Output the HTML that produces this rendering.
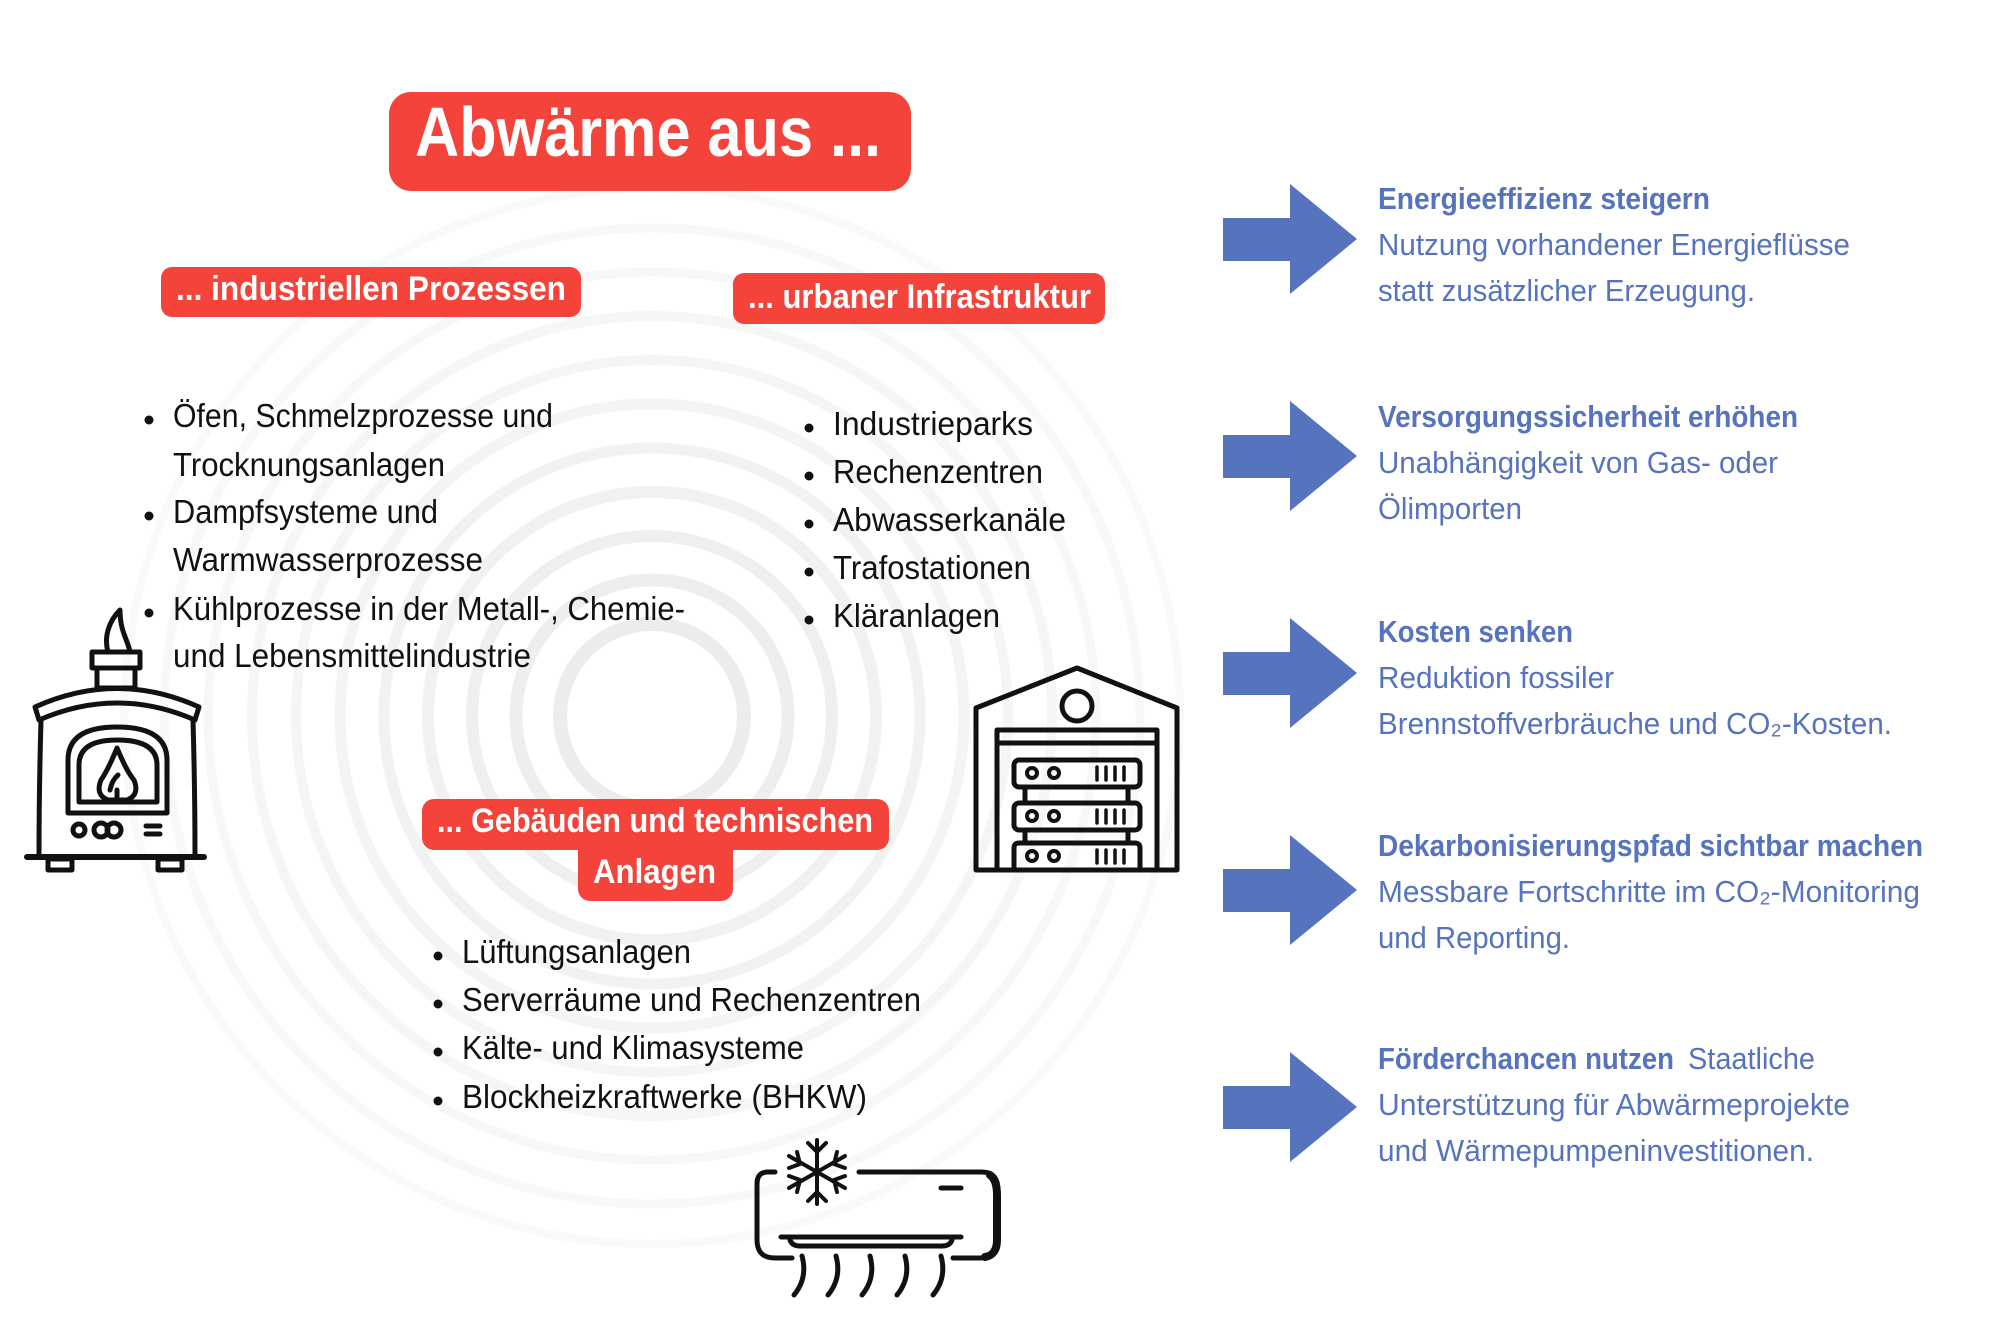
<!DOCTYPE html>
<html><head><meta charset="utf-8"><style>
html,body{margin:0;padding:0;background:#fff}
svg{display:block}
.t{font-family:"Liberation Sans",sans-serif}
</style></head><body>
<svg width="2000" height="1333" viewBox="0 0 2000 1333" xmlns="http://www.w3.org/2000/svg">
<rect width="2000" height="1333" fill="#fff"/>
<!-- rings -->
<g fill="none">
<circle cx="652" cy="716" r="92" stroke="#ececec" stroke-width="14"/>
<circle cx="652" cy="716" r="136" stroke="#eeeeee" stroke-width="13"/>
<circle cx="652" cy="716" r="180" stroke="#efefef" stroke-width="12"/>
<circle cx="652" cy="716" r="224" stroke="#f1f1f1" stroke-width="12"/>
<circle cx="652" cy="716" r="268" stroke="#f2f2f2" stroke-width="11"/>
<circle cx="652" cy="716" r="312" stroke="#f4f4f4" stroke-width="11"/>
<circle cx="652" cy="716" r="356" stroke="#f5f5f5" stroke-width="10"/>
<circle cx="652" cy="716" r="400" stroke="#f6f6f6" stroke-width="10"/>
<circle cx="652" cy="716" r="444" stroke="#f7f7f7" stroke-width="9"/>
<circle cx="652" cy="716" r="488" stroke="#f8f8f8" stroke-width="9"/>
<circle cx="652" cy="716" r="528" stroke="#f9f9f9" stroke-width="8"/>
</g>
<!-- title -->
<rect x="389" y="92" width="522" height="99" rx="22" fill="#F4433A"/>
<text class="t" x="415" y="156" font-size="70" font-weight="bold" fill="#fff" textLength="466" lengthAdjust="spacingAndGlyphs">Abwärme aus ...</text>
<!-- pills -->
<rect x="161" y="267" width="420" height="50" rx="11" fill="#F4433A"/>
<text class="t" x="176" y="300" font-size="34" font-weight="bold" fill="#fff" textLength="390" lengthAdjust="spacingAndGlyphs">...  industriellen Prozessen</text>
<rect x="733" y="273" width="372" height="51" rx="11" fill="#F4433A"/>
<text class="t" x="748" y="308" font-size="34" font-weight="bold" fill="#fff" textLength="343" lengthAdjust="spacingAndGlyphs">... urbaner Infrastruktur</text>
<rect x="422" y="799" width="467" height="51" rx="12" fill="#F4433A"/>
<rect x="578" y="830" width="155" height="71" rx="12" fill="#F4433A"/>
<text class="t" x="437" y="832" font-size="34" font-weight="bold" fill="#fff" textLength="436" lengthAdjust="spacingAndGlyphs">... Gebäuden und technischen</text>
<text class="t" x="593" y="883" font-size="34" font-weight="bold" fill="#fff" textLength="123" lengthAdjust="spacingAndGlyphs">Anlagen</text>
<!-- left list -->
<g class="t" font-size="33" fill="#111">
<circle cx="149" cy="420" r="4.5"/>
<text x="173" y="427" textLength="380" lengthAdjust="spacingAndGlyphs">Öfen, Schmelzprozesse und</text>
<text x="173" y="476" textLength="272" lengthAdjust="spacingAndGlyphs">Trocknungsanlagen</text>
<circle cx="149" cy="516" r="4.5"/>
<text x="173" y="523" textLength="265" lengthAdjust="spacingAndGlyphs">Dampfsysteme und</text>
<text x="173" y="571" textLength="310" lengthAdjust="spacingAndGlyphs">Warmwasserprozesse</text>
<circle cx="149" cy="613" r="4.5"/>
<text x="173" y="620" textLength="512" lengthAdjust="spacingAndGlyphs">Kühlprozesse in der Metall-, Chemie-</text>
<text x="173" y="667" textLength="358" lengthAdjust="spacingAndGlyphs">und Lebensmittelindustrie</text>
</g>
<!-- right list -->
<g class="t" font-size="33" fill="#111">
<circle cx="809" cy="428" r="4.5"/><text x="833" y="435" textLength="200" lengthAdjust="spacingAndGlyphs">Industrieparks</text>
<circle cx="809" cy="476" r="4.5"/><text x="833" y="483" textLength="210" lengthAdjust="spacingAndGlyphs">Rechenzentren</text>
<circle cx="809" cy="524" r="4.5"/><text x="833" y="531" textLength="233" lengthAdjust="spacingAndGlyphs">Abwasserkanäle</text>
<circle cx="809" cy="572" r="4.5"/><text x="833" y="579" textLength="198" lengthAdjust="spacingAndGlyphs">Trafostationen</text>
<circle cx="809" cy="620" r="4.5"/><text x="833" y="627" textLength="167" lengthAdjust="spacingAndGlyphs">Kläranlagen</text>
</g>
<!-- bottom list -->
<g class="t" font-size="33" fill="#111">
<circle cx="438" cy="956" r="4.5"/><text x="462" y="963" textLength="229" lengthAdjust="spacingAndGlyphs">Lüftungsanlagen</text>
<circle cx="438" cy="1004" r="4.5"/><text x="462" y="1011" textLength="459" lengthAdjust="spacingAndGlyphs">Serverräume und Rechenzentren</text>
<circle cx="438" cy="1052" r="4.5"/><text x="462" y="1059" textLength="342" lengthAdjust="spacingAndGlyphs">Kälte- und Klimasysteme</text>
<circle cx="438" cy="1101" r="4.5"/><text x="462" y="1108" textLength="405" lengthAdjust="spacingAndGlyphs">Blockheizkraftwerke (BHKW)</text>
</g>
<!-- furnace -->
<g fill="none" stroke="#111" stroke-width="5" stroke-linejoin="round" stroke-linecap="round">
<path d="M120 610 C108 622 104 638 108 652 L130 652 C128 640 120 632 120 610 Z"/>
<rect x="92" y="652" width="48" height="16"/>
<rect x="97" y="668" width="38" height="20"/>
<path d="M35 707 Q117 670 199 707 L195 720 Q117 686 39 720 Z"/>
<path d="M41 720 Q39 790 39 857 M193 720 Q195 790 195 857"/>
<line x1="27" y1="857" x2="204" y2="857" stroke-width="6"/>
<rect x="48" y="859" width="24" height="11"/>
<rect x="158" y="859" width="24" height="11"/>
<path d="M68 813 L68 760 Q68 727 117 727 Q167 727 167 760 L167 813 Z"/>
<path d="M79 802 L79 765 Q79 740 117 740 Q157 740 157 765 L157 802 Z"/>
<path d="M117 748 Q108 770 101 780 Q95 795 108 800 L127 800 Q140 795 134 780 Q127 772 117 748 Z"/>
<path d="M117 800 L117 790 M110 790 Q112 780 118 775"/>
<circle cx="79" cy="830" r="6"/>
<circle cx="101" cy="830" r="7"/><circle cx="114" cy="830" r="7"/>
<line x1="146" y1="826" x2="160" y2="826"/><line x1="146" y1="834" x2="160" y2="834"/>
</g>
<!-- server house -->
<g fill="none" stroke="#111" stroke-width="5" stroke-linejoin="round">
<path d="M976 870 L976 708 L1077 668 L1177 708 L1177 870 Z"/>
<circle cx="1077" cy="706" r="15"/>
<path d="M997 870 L997 730 L1157 730 L1157 870"/>
<line x1="997" y1="743" x2="1157" y2="743"/>
<rect x="1014" y="760" width="126" height="27" rx="5"/>
<rect x="1014" y="803" width="126" height="27" rx="5"/>
<path d="M1014 870 L1014 848 Q1014 843 1019 843 L1135 843 Q1140 843 1140 848 L1140 870"/>
<path d="M1025 787 V803 M1128 787 V803 M1025 830 V843 M1128 830 V843"/>
<g stroke-width="4">
<circle cx="1032" cy="773" r="5"/><circle cx="1054" cy="773" r="5"/>
<circle cx="1032" cy="816" r="5"/><circle cx="1054" cy="816" r="5"/>
<circle cx="1032" cy="856" r="5"/><circle cx="1054" cy="856" r="5"/>
</g>
<g stroke-width="3.5" stroke-linecap="round">
<path d="M1097 767 V780 M1106 767 V780 M1115 767 V780 M1124 767 V780"/>
<path d="M1097 810 V823 M1106 810 V823 M1115 810 V823 M1124 810 V823"/>
<path d="M1097 850 V863 M1106 850 V863 M1115 850 V863 M1124 850 V863"/>
</g>
</g>
<!-- AC -->
<g fill="none" stroke="#111" stroke-width="5" stroke-linecap="round" stroke-linejoin="round">
<path d="M775 1172 L768 1172 Q757 1172 757 1184 L757 1240 Q757 1258 775 1258 L792 1258"/>
<path d="M859 1172 L982 1172 Q998 1172 998 1190 L998 1240 Q998 1258 980 1258 L953 1258"/>
<path d="M990 1175 Q997 1180 997 1195 L997 1240 Q997 1255 985 1257" stroke-width="8"/>
<line x1="941" y1="1188" x2="961" y2="1188"/>
<line x1="781" y1="1237" x2="961" y2="1237"/>
<path d="M790 1240 Q792 1246 800 1246 L942 1246 Q950 1246 952 1240"/>
<path d="M802 1256 Q808 1278 794 1295 M836 1256 Q842 1278 828 1295 M870 1256 Q876 1278 862 1295 M905 1256 Q911 1278 897 1295 M941 1256 Q947 1278 933 1295"/>
<g stroke-width="4">
<path d="M817 1140 V1204 M789 1156 L845 1188 M789 1188 L845 1156"/>
<path d="M808 1143 L817 1152 L826 1143 M808 1201 L817 1192 L826 1201"/>
<path d="M789 1168 L800 1164 L797 1152 M837 1192 L834 1180 L845 1176"/>
<path d="M797 1192 L800 1180 L789 1176 M845 1168 L834 1164 L837 1152"/>
</g>
</g>
<!-- arrows & right text -->
<g fill="#5673BE">
<path d="M1223 218 H1290 V184 L1357 239 L1290 294 V261 H1223 Z"/>
<path d="M1223 435 H1290 V401 L1357 456 L1290 511 V478 H1223 Z"/>
<path d="M1223 652 H1290 V618 L1357 673 L1290 728 V695 H1223 Z"/>
<path d="M1223 869 H1290 V835 L1357 890 L1290 945 V912 H1223 Z"/>
<path d="M1223 1086 H1290 V1052 L1357 1107 L1290 1162 V1129 H1223 Z"/>
</g>
<g class="t" fill="#5673BE" font-size="31">
<text x="1378" y="209" font-weight="bold" textLength="332" lengthAdjust="spacingAndGlyphs">Energieeffizienz steigern</text>
<text x="1378" y="255" textLength="472" lengthAdjust="spacingAndGlyphs">Nutzung vorhandener Energieflüsse</text>
<text x="1378" y="301" textLength="377" lengthAdjust="spacingAndGlyphs">statt zusätzlicher Erzeugung.</text>

<text x="1378" y="427" font-weight="bold" textLength="420" lengthAdjust="spacingAndGlyphs">Versorgungssicherheit erhöhen</text>
<text x="1378" y="473" textLength="400" lengthAdjust="spacingAndGlyphs">Unabhängigkeit von Gas- oder</text>
<text x="1378" y="519" textLength="144" lengthAdjust="spacingAndGlyphs">Ölimporten</text>

<text x="1378" y="642" font-weight="bold" textLength="195" lengthAdjust="spacingAndGlyphs">Kosten senken</text>
<text x="1378" y="688" textLength="236" lengthAdjust="spacingAndGlyphs">Reduktion fossiler</text>
<text x="1378" y="734" textLength="514" lengthAdjust="spacingAndGlyphs">Brennstoffverbräuche und CO₂-Kosten.</text>

<text x="1378" y="856" font-weight="bold" textLength="545" lengthAdjust="spacingAndGlyphs">Dekarbonisierungspfad sichtbar machen</text>
<text x="1378" y="902" textLength="542" lengthAdjust="spacingAndGlyphs">Messbare Fortschritte im CO₂-Monitoring</text>
<text x="1378" y="948" textLength="192" lengthAdjust="spacingAndGlyphs">und Reporting.</text>

<text x="1378" y="1069" font-weight="bold" textLength="296" lengthAdjust="spacingAndGlyphs">Förderchancen nutzen</text>
<text x="1688" y="1069" textLength="127" lengthAdjust="spacingAndGlyphs">Staatliche</text>
<text x="1378" y="1115" textLength="472" lengthAdjust="spacingAndGlyphs">Unterstützung für Abwärmeprojekte</text>
<text x="1378" y="1161" textLength="436" lengthAdjust="spacingAndGlyphs">und Wärmepumpeninvestitionen.</text>
</g>
</svg>
</body></html>
